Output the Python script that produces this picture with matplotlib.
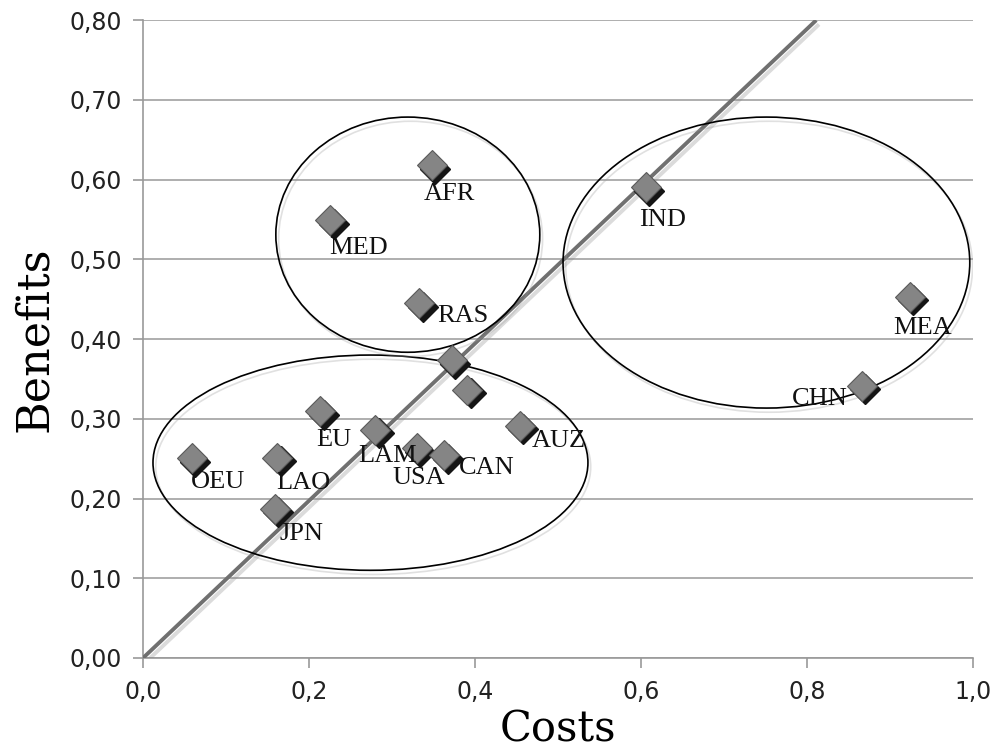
import matplotlib
matplotlib.use('Agg')
import matplotlib.pyplot as plt
import matplotlib.patheffects as pe
from matplotlib.patches import Ellipse
from matplotlib.ticker import FuncFormatter
from matplotlib.transforms import offset_copy

# regions and their (cost, benefit) values
names = ['OEU', 'LAO', 'JPN', 'EU', 'LAM', 'USA', 'CAN', 'AUZ', '', '',
         'AFR', 'MED', 'RAS', 'IND', 'MEA', 'CHN']
costs = [0.060, 0.163, 0.160, 0.215, 0.281, 0.331, 0.364, 0.455, 0.373, 0.392,
         0.349, 0.227, 0.334, 0.607, 0.925, 0.867]
benefits = [0.249, 0.250, 0.186, 0.308, 0.285, 0.262, 0.253, 0.290, 0.372, 0.335,
            0.617, 0.548, 0.444, 0.589, 0.452, 0.340]

# trend line end points
trend_x = [0.0, 0.811]
trend_y = [0.0, 0.800]

# cluster ellipses: (center x, center y, width, height)
clusters = [(0.274, 0.245, 0.524, 0.270),
            (0.319, 0.531, 0.318, 0.295),
            (0.751, 0.496, 0.490, 0.365)]

# label offsets in pixels (right, down) from marker centre
label_off = {'OEU': (25, 23), 'LAO': (25, 24), 'JPN': (26, 24), 'EU': (12, 28),
             'LAM': (11, 25), 'USA': (1, 29), 'CAN': (42, 12), 'AUZ': (38, 14),
             'AFR': (17, 28), 'MED': (27, 27), 'RAS': (43, 12), 'IND': (16, 32),
             'MEA': (12, 30), 'CHN': (-43, 12)}

fig = plt.figure(figsize=(9.96, 7.49), dpi=100)
ax = fig.add_axes([0.1436, 0.1215, 0.977 - 0.1436, 0.973 - 0.1215])

ax.set_xlim(0, 1.0)
ax.set_ylim(0, 0.80)
ax.set_xticks([0, 0.2, 0.4, 0.6, 0.8, 1.0])
ax.set_yticks([i / 10 for i in range(9)])
ax.xaxis.set_major_formatter(FuncFormatter(lambda v, p: f'{v:.1f}'.replace('.', ',')))
ax.yaxis.set_major_formatter(FuncFormatter(lambda v, p: f'{v:.2f}'.replace('.', ',')))
ax.yaxis.grid(True, color='#a8a8a8', lw=1.3)
ax.set_axisbelow(True)
for s in ['top', 'right']:
    ax.spines[s].set_visible(False)
for s in ['left', 'bottom']:
    ax.spines[s].set_color('#999999')
    ax.spines[s].set_linewidth(1.2)
ax.tick_params(length=7, width=1.2, color='#999999', labelsize=17, labelcolor='#222222')
ax.tick_params(axis='x', pad=9)
ax.tick_params(axis='y', pad=8)

ax.set_xlabel('Costs', family='DejaVu Serif', fontsize=30, labelpad=3)
ax.set_ylabel('Benefits', family='DejaVu Serif', fontsize=32, labelpad=10)

# trend line with soft shadow
ax.plot(trend_x, trend_y, color='#707070', lw=2.8, solid_capstyle='butt', zorder=3,
        path_effects=[pe.SimpleLineShadow(offset=(2, -3), shadow_color='#888888', alpha=0.3),
                      pe.Normal()])

# ellipses
for cx, cy, w, h in clusters:
    e = Ellipse((cx, cy), w, h, fill=False, edgecolor='black', lw=1.2, zorder=4,
                path_effects=[pe.SimpleLineShadow(offset=(2, -3), shadow_color='#999999', alpha=0.3),
                              pe.Normal()])
    ax.add_patch(e)

# bevelled diamond markers: dark base shifted down-right, grey face on top
dark_tr = offset_copy(ax.transData, fig=fig, x=2.5, y=-2.5, units='dots')
face_tr = offset_copy(ax.transData, fig=fig, x=-1, y=1, units='dots')
ax.plot(costs, benefits, 'D', ms=15, color='#151515', mec='#151515', transform=dark_tr, zorder=5)
ax.plot(costs, benefits, 'D', ms=15, color='#858585', mec='#5a5a5a', mew=0.8,
        transform=face_tr, zorder=6)

for n, x, y in zip(names, costs, benefits):
    if not n:
        continue
    dx, dy = label_off[n]
    ax.annotate(n, (x, y), xytext=(dx, -dy), textcoords='offset pixels',
                ha='center', va='center', family='Liberation Serif', fontsize=19,
                color='#111111', zorder=7)

fig.savefig('out.png', dpi=100)
